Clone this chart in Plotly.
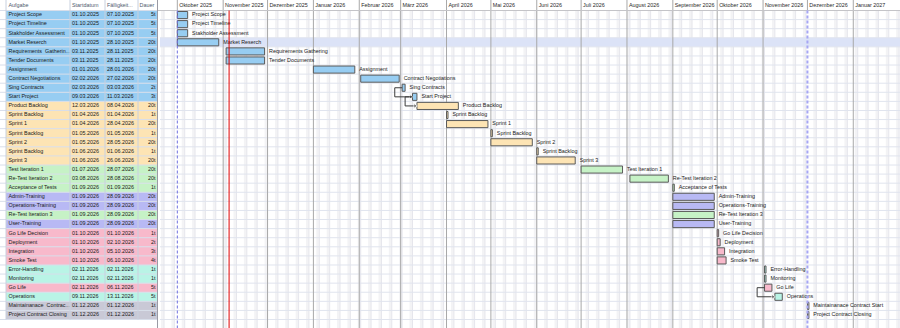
import plotly.graph_objects as go
import pandas as pd

# ---------------- data ----------------
table_names = ["Project Scope", "Project Timeline", "Stakholder Assessment", "Market Reserch",
               "Requirements  Gatherin...", "Tender Documents", "Assignment", "Contract Negotiations",
               "Sing Contracts", "Start Project", "Product Backlog", "Sprint Backlog", "Sprint 1",
               "Sprint Backlog", "Sprint 2", "Sprint Backlog", "Sprint 3", "Test Iteration 1",
               "Re-Test Iteration 2", "Acceptance of Tests", "Admin-Training", "Operations-Training",
               "Re-Test Iteration 3", "User-Training", "Go Life Decision", "Deployment", "Integration",
               "Smoke Test", "Error-Handling", "Monitoring", "Go Life", "Operations",
               "Maintainanace  Contrac...", "Project Contract Closing"]
bar_labels = ["Project Scope", "Project Timeline", "Stakholder Assessment", "Market Reserch",
              "Requirements Gathering", "Tender Documents", "Assignment", "Contract Negotiations",
              "Sing Contracts", "Start Project", "Product Backlog", "Sprint Backlog", "Sprint 1",
              "Sprint Backlog", "Sprint 2", "Sprint Backlog", "Sprint 3", "Test Iteration 1",
              "Re-Test Iteration 2", "Acceptance of Tests", "Admin-Training", "Operations-Training",
              "Re-Test Iteration 3", "User-Training", "Go Life Decision", "Deployment", "Integration",
              "Smoke Test", "Error-Handling", "Monitoring", "Go Life", "Operations",
              "Maintainanace Contract Start", "Project Contract Closing"]
start_txt = ["01.10.2025", "01.10.2025", "01.10.2025", "01.10.2025", "03.11.2025", "03.11.2025",
             "01.01.2026", "02.02.2026", "02.03.2026", "09.03.2026", "12.03.2026", "01.04.2026",
             "01.04.2026", "01.05.2026", "01.05.2026", "01.06.2026", "01.06.2026", "01.07.2026",
             "03.08.2026", "01.09.2026", "01.09.2026", "01.09.2026", "01.09.2026", "01.09.2026",
             "01.10.2026", "01.10.2026", "01.10.2026", "01.10.2026", "02.11.2026", "02.11.2026",
             "02.11.2026", "09.11.2026", "01.12.2026", "01.12.2026"]
end_txt = ["07.10.2025", "07.10.2025", "07.10.2025", "28.10.2025", "28.11.2025", "28.11.2025",
           "28.01.2026", "27.02.2026", "03.03.2026", "11.03.2026", "08.04.2026", "01.04.2026",
           "28.04.2026", "01.05.2026", "28.05.2026", "01.06.2026", "26.06.2026", "28.07.2026",
           "28.08.2026", "01.09.2026", "28.09.2026", "28.09.2026", "28.09.2026", "28.09.2026",
           "01.10.2026", "02.10.2026", "05.10.2026", "06.10.2026", "02.11.2026", "02.11.2026",
           "06.11.2026", "13.11.2026", "01.12.2026", "01.12.2026"]
dauer = ["5t", "5t", "5t", "20t", "20t", "20t", "20t", "20t", "2t", "3t", "20t", "1t", "20t", "1t",
         "20t", "1t", "20t", "20t", "20t", "1t", "20t", "20t", "20t", "20t", "1t", "2t", "3t", "4t",
         "1t", "1t", "5t", "5t", "1t", "1t"]
group = ["plan"] * 10 + ["dev"] * 7 + ["test"] * 3 + ["train", "train", "test", "train"] + \
        ["golive"] * 4 + ["ops", "ops", "golive", "ops", "close", "close"]
headers = ["Aufgabe", "Startdatum", "Fälligkeit...", "Dauer"]
month_names = ["Januar", "Februar", "März", "April", "Mai", "Juni", "Juli", "August",
               "September", "Oktober", "November", "Dezember"]
links = [(8, 9), (9, 10), (30, 31)]   # start-to-start dependencies
selected_row = 3
today = "2025-11-05"
project_start = "2025-10-01"
project_end = "2026-12-01"

group_colors = {"plan": "#97CDF2", "dev": "#FDE4B4", "test": "#C6F2C6", "train": "#B8B9F4",
                "golive": "#F8B9CB", "ops": "#B9F4E6", "close": "#C9C9D6"}

# ---------------- derived ----------------
n = len(table_names)
rows = list(range(n))
s = pd.to_datetime(start_txt, format="%d.%m.%Y")
e = pd.to_datetime(end_txt, format="%d.%m.%Y") + pd.Timedelta(days=1)
dur_ms = [(b - a).total_seconds() * 1000 for a, b in zip(s, e)]
colors = [group_colors[g] for g in group]

FONT = "Liberation Sans, Arial, sans-serif"
FS = 5.4
Y_TOP = -1.655
Y_BOT = 34.435
X2_RANGE = ["2025-09-19 07:00", "2027-02-01 14:00"]

fig = go.Figure()

# table cell fills
fig.add_trace(go.Bar(orientation="h", y=rows, x=[152] * n, base=6, width=1,
                     marker=dict(color=colors, line=dict(width=0)), xaxis="x", yaxis="y",
                     hoverinfo="skip"))
# table texts
tcol = "#1a1a1a"
def table_text(xv, texts, pos):
    fig.add_trace(go.Scatter(x=[xv] * len(texts), y=list(range(len(texts))), text=texts, mode="text",
                             textposition=pos, cliponaxis=False,
                             textfont=dict(family=FONT, size=FS, color=tcol), xaxis="x", yaxis="y",
                             hoverinfo="skip"))
table_text(8.5, table_names, "middle right")
table_text(72, start_txt, "middle right")
table_text(107, end_txt, "middle right")
table_text(155.5, dauer, "middle left")
# table header
fig.add_trace(go.Scatter(x=[8.5, 72, 107, 139.5], y=[-1.08] * 4, text=headers, mode="text",
                         textposition="middle right", cliponaxis=False,
                         textfont=dict(family=FONT, size=FS, color="#4f5a6e"), xaxis="x", yaxis="y",
                         hoverinfo="skip"))

# gantt bars
fig.add_trace(go.Bar(orientation="h", y=rows, x=dur_ms, base=[d.isoformat() for d in s], width=0.78,
                     marker=dict(color=colors, line=dict(color="#5a5a5a", width=1)),
                     xaxis="x2", yaxis="y", hoverinfo="skip"))
# bar labels
fig.add_trace(go.Scatter(x=[d + pd.Timedelta(days=3) for d in e], y=rows, text=bar_labels, mode="text",
                         textposition="middle right",
                         textfont=dict(family=FONT, size=FS, color="#222"), xaxis="x2", yaxis="y",
                         hoverinfo="skip"))
# dependency connectors
for p, q in links:
    xa = s[p]
    xb = s[p] - pd.Timedelta(days=5)
    xs = [xa, xb, xb, s[q] - pd.Timedelta(days=1.3)]
    fig.add_trace(go.Scatter(x=xs, y=[p, p, q, q], mode="lines+markers",
                             line=dict(color="#3c3c3c", width=1),
                             marker=dict(symbol="triangle-right", size=[0, 0, 0, 4.5], color="#3c3c3c"),
                             xaxis="x2", yaxis="y", hoverinfo="skip"))

# month labels
months = pd.date_range("2025-10-01", "2027-01-01", freq="MS")
mlabels = [f"{month_names[m.month - 1]} {m.year}" for m in months]
fig.add_trace(go.Scatter(x=[m + pd.Timedelta(days=1.3) for m in months], y=[-1.08] * len(months),
                         text=mlabels, mode="text", textposition="middle right",
                         textfont=dict(family=FONT, size=FS, color="#2a2a2a"), xaxis="x2", yaxis="y",
                         hoverinfo="skip"))

shapes = []
# weekend shading
for sat in pd.date_range("2025-09-13", "2027-02-06", freq="W-SAT"):
    shapes.append(dict(type="rect", xref="x2", yref="y", x0=sat, x1=sat + pd.Timedelta(days=2),
                       y0=-0.5, y1=Y_BOT, fillcolor="#F3F3F5", line=dict(width=0), layer="below"))
# weekly lines
for mon in pd.date_range("2025-09-15", "2027-02-06", freq="W-MON"):
    shapes.append(dict(type="line", xref="x2", yref="y", x0=mon, x1=mon, y0=-0.5, y1=Y_BOT,
                       line=dict(color="#E6E6EC", width=1), layer="below"))
# selected row highlight
shapes.append(dict(type="rect", xref="x2", yref="y", x0=X2_RANGE[0], x1=X2_RANGE[1],
                   y0=selected_row - 0.5, y1=selected_row + 0.5, fillcolor="#DCE3F7",
                   line=dict(width=0), layer="below"))
# row lines (chart)
for r in range(n + 1):
    shapes.append(dict(type="line", xref="x2", yref="y", x0=X2_RANGE[0], x1=X2_RANGE[1],
                       y0=r - 0.5, y1=r - 0.5, line=dict(color="#E0E4EE", width=1), layer="below"))
# month boundary lines
for m in months:
    if str(m.date()) in (project_start, project_end):
        continue
    shapes.append(dict(type="line", xref="x2", yref="y", x0=m, x1=m, y0=Y_TOP, y1=Y_BOT,
                       line=dict(color="#A8A8A8", width=1), layer="below"))
for m in (project_start, project_end):
    shapes.append(dict(type="line", xref="x2", yref="y", x0=m, x1=m, y0=Y_TOP, y1=-0.5,
                       line=dict(color="#A8A8A8", width=1), layer="below"))
# header bottom line
shapes.append(dict(type="line", xref="paper", yref="y", x0=0, x1=1, y0=-0.5, y1=-0.5,
                   line=dict(color="#C4C4C8", width=1)))
# project start/end dashed lines
shapes.append(dict(type="line", xref="x2", yref="y", x0=project_start, x1=project_start, y0=-0.5, y1=Y_BOT,
                   line=dict(color="#6F6FE0", width=1, dash="3px,2px")))
shapes.append(dict(type="line", xref="x2", yref="y", x0=project_end, x1=project_end, y0=-0.5, y1=Y_BOT,
                   line=dict(color="#A6A6F4", width=2, dash="3px,2px")))
# today line
shapes.append(dict(type="line", xref="x2", yref="y", x0=today, x1=today, y0=-0.5, y1=Y_BOT,
                   line=dict(color="#E00000", width=1)))

# table grid
for r in range(n + 1):
    shapes.append(dict(type="line", xref="x", yref="y", x0=0, x1=158, y0=r - 0.5, y1=r - 0.5,
                       line=dict(color="#D8DEEA", width=1)))
for xv in (6, 70, 105, 138):
    shapes.append(dict(type="line", xref="x", yref="y", x0=xv, x1=xv, y0=Y_TOP, y1=n - 0.5,
                       line=dict(color="#C8D0DE", width=1)))
shapes.append(dict(type="line", xref="x", yref="y", x0=157.5, x1=157.5, y0=Y_TOP, y1=Y_BOT,
                   line=dict(color="#9A9AA4", width=1)))

fig.update_layout(
    width=900, height=328, margin=dict(l=0, r=0, t=0, b=0),
    paper_bgcolor="white", plot_bgcolor="white", showlegend=False, barmode="overlay",
    xaxis=dict(domain=[0, 158 / 900], range=[0, 158], visible=False, fixedrange=True),
    xaxis2=dict(domain=[160 / 900, 1], range=X2_RANGE, type="date", visible=False, anchor="y"),
    yaxis=dict(range=[Y_BOT, Y_TOP], visible=False),
    shapes=shapes,
)

fig.write_html("out.html")
